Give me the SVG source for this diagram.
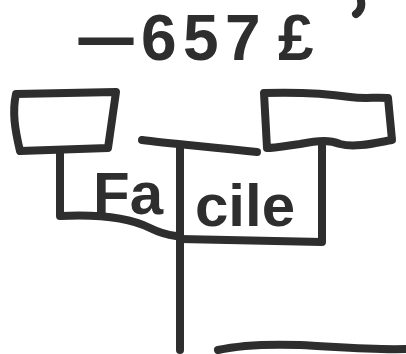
<svg xmlns="http://www.w3.org/2000/svg" width="406" height="354" viewBox="0 0 406 354">
<style>
.ink{fill:none;stroke:#2e2e2e;stroke-width:8;stroke-linecap:round;stroke-linejoin:round}
.txt{font-family:"Liberation Sans","DejaVu Sans",sans-serif;font-weight:bold;fill:#2e2e2e}
</style>
<rect width="406" height="354" fill="#ffffff"/>
<g id="title">
<text class="txt" font-size="62" transform="translate(70,58) scale(3.5,1)">-</text>
<text class="txt" font-size="64" x="141 183 225 278" y="60">657£</text>
</g>
<g id="left-box">
<path class="ink" d="M16,94 L116,92 L112,120 L108,148 L20,151 C15,130 12,112 16,94 Z"/>
</g>
<g id="right-box">
<path class="ink" d="M264,93 C300,92 330,94 350,97 C365,99 375,97 388,98 L392,140 C375,143 355,148 340,144 C330,140 320,140 300,144 C285,146 275,148 267,148 Z"/>
</g>
<g id="label-facile">
<text class="txt" font-size="60"><tspan x="93" y="214">Fa</tspan><tspan x="195" y="226">cile</tspan></text>
</g>
<g id="connectors">
<path class="ink" d="M60,150 L60,216 C100,214 130,218 150,228 C160,233 168,235 176,236"/>
<path class="ink" d="M142,140 C165,143 200,146 257,152"/>
<path class="ink" d="M180,147 L180,350"/>
<path class="ink" d="M322,146 L322,242 L180,239"/>
<path class="ink" stroke-width="9" d="M218,350 C240,345 270,344 300,345 C340,347 370,350 406,349"/>
<path class="ink" stroke-width="6" d="M361,1 C362,6 360,11 356,14"/>
</g>
</svg>
